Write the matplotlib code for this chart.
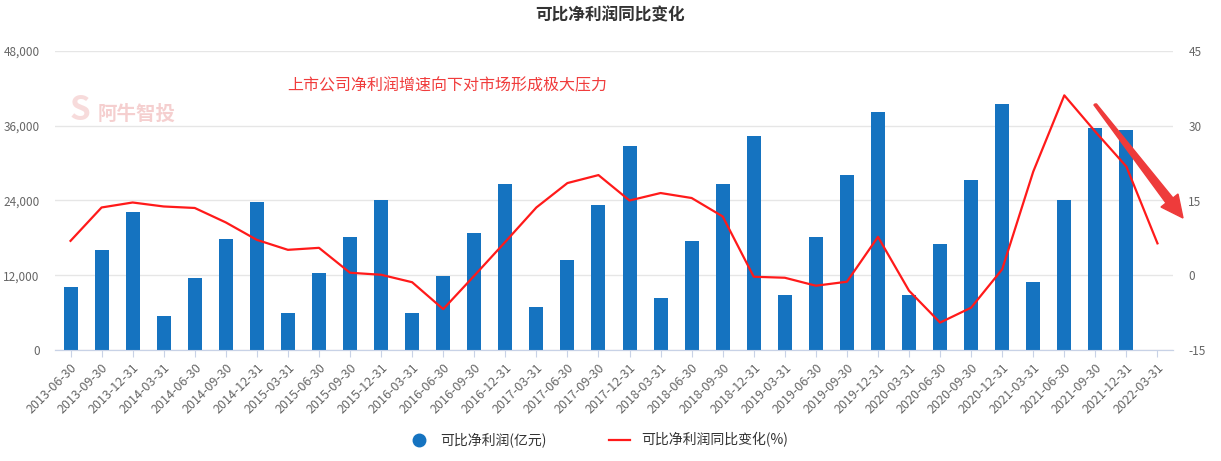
import matplotlib
matplotlib.use("Agg")
import matplotlib.pyplot as plt
from matplotlib.lines import Line2D
from matplotlib.patches import Polygon
import numpy as np

plt.rcParams['font.family'] = ['Noto Sans CJK SC', 'DejaVu Sans']

# report dates
dates = ["2013-06-30", "2013-09-30", "2013-12-31",
         "2014-03-31", "2014-06-30", "2014-09-30", "2014-12-31",
         "2015-03-31", "2015-06-30", "2015-09-30", "2015-12-31",
         "2016-03-31", "2016-06-30", "2016-09-30", "2016-12-31",
         "2017-03-31", "2017-06-30", "2017-09-30", "2017-12-31",
         "2018-03-31", "2018-06-30", "2018-09-30", "2018-12-31",
         "2019-03-31", "2019-06-30", "2019-09-30", "2019-12-31",
         "2020-03-31", "2020-06-30", "2020-09-30", "2020-12-31",
         "2021-03-31", "2021-06-30", "2021-09-30", "2021-12-31",
         "2022-03-31"]

# comparable net profit (100M yuan), last quarter not reported
profit = [10100, 16000, 22150,
          5460, 11560, 17820, 23760,
          5940, 12360, 18140, 24080,
          5940, 11880, 18780, 26650,
          6900, 14450, 23280, 32750,
          8350, 17500, 26650, 34350,
          8830, 18140, 28090, 38210,
          8830, 17020, 27290, 39490,
          10920, 24080, 35640, 35320,
          np.nan]

# yoy change (%)
yoy = [6.9, 13.6, 14.6,
       13.8, 13.5, 10.6, 7.1,
       5.1, 5.5, 0.5, 0.1,
       -1.4, -6.8, -0.1, 6.7,
       13.6, 18.5, 20.1, 15.0,
       16.5, 15.5, 11.8, -0.3,
       -0.5, -2.1, -1.3, 7.7,
       -3.1, -9.5, -6.5, 1.2,
       20.8, 36.1, 28.8, 21.8,
       6.4]

left_ticks = [0, 12000, 24000, 36000, 48000]
right_ticks = [-15, 0, 15, 30, 45]

W, H = 1221, 461
fig = plt.figure(figsize=(W / 100, H / 100), dpi=100)
ax = fig.add_axes([55 / W, 1 - 350 / H, (1173 - 55) / W, (350 - 51) / H])
ax2 = ax.twinx()

x = np.arange(len(dates))
bar_color = '#1573c0'
line_color = '#ff1a1a'
ax.bar(x, profit, width=0.45, color=bar_color, zorder=3)
ax2.plot(x, yoy, color=line_color, lw=1.6, zorder=4)

ax.set_xlim(-0.5, len(dates) - 0.5)
ax.set_ylim(0, 48000)
ax2.set_ylim(-15, 45)
ax.set_yticks(left_ticks)
ax.set_yticklabels([f"{v:,}" for v in left_ticks])
ax2.set_yticks(right_ticks)
ax2.set_yticklabels([str(v) for v in right_ticks])

ax.set_xticks(x)
ax.set_xticklabels(dates, rotation=45, ha='right', rotation_mode='anchor')

ax.grid(axis='y', color='#e6e6e6', lw=1, zorder=0)
ax.set_axisbelow(True)
for a in (ax, ax2):
    for s in ('top', 'left', 'right'):
        a.spines[s].set_visible(False)
    a.spines['bottom'].set_color('#c8d2e6')
ax.tick_params(axis='x', length=5, color='#c8d2e6', labelsize=9,
               labelcolor='#666666', pad=3)
ax.tick_params(axis='y', length=0, labelsize=8.5, labelcolor='#666666', pad=11)
ax2.tick_params(axis='y', length=0, labelsize=8.5, labelcolor='#666666', pad=11)

fig.text(610 / W, 1 - 15 / H, "可比净利润同比变化", ha='center', va='center',
         fontsize=12, fontweight='bold', color='#333333')
fig.text(287 / W, 1 - 86 / H, "上市公司净利润增速向下对市场形成极大压力",
         ha='left', va='center', fontsize=11.5, color='#f03c3c')
# faint watermark
fig.text(98 / W, 1 - 114 / H, "阿牛智投", ha='left', va='center', fontsize=14,
         fontweight='bold', color='#f3c4c4', alpha=0.8)
fig.text(80 / W, 1 - 110 / H, "S", ha='center', va='center', fontsize=24,
         fontweight='bold', color='#f3c4c4', alpha=0.6)

# red tapered arrow
arrow_px = [(1095, 104), (1096.5, 104), (1173, 198), (1178, 194),
            (1183, 218), (1161, 207), (1166, 203), (1094, 105)]
arrow = Polygon([(px / W, 1 - py / H) for px, py in arrow_px], closed=True,
                transform=fig.transFigure, color='#ee3b3b', zorder=10)
fig.patches.append(arrow)

handles = [Line2D([], [], marker='o', ls='none', color=bar_color, markersize=9),
           Line2D([], [], color=line_color, lw=1.6)]
fig.legend(handles, ["可比净利润(亿元)", "可比净利润同比变化(%)"],
           loc='center', bbox_to_anchor=(598 / W, 1 - 440 / H), ncol=2,
           frameon=False, fontsize=10, columnspacing=4.5, handlelength=1.5,
           handletextpad=0.8, labelcolor='#333333')

fig.savefig("out.png", dpi=100)
